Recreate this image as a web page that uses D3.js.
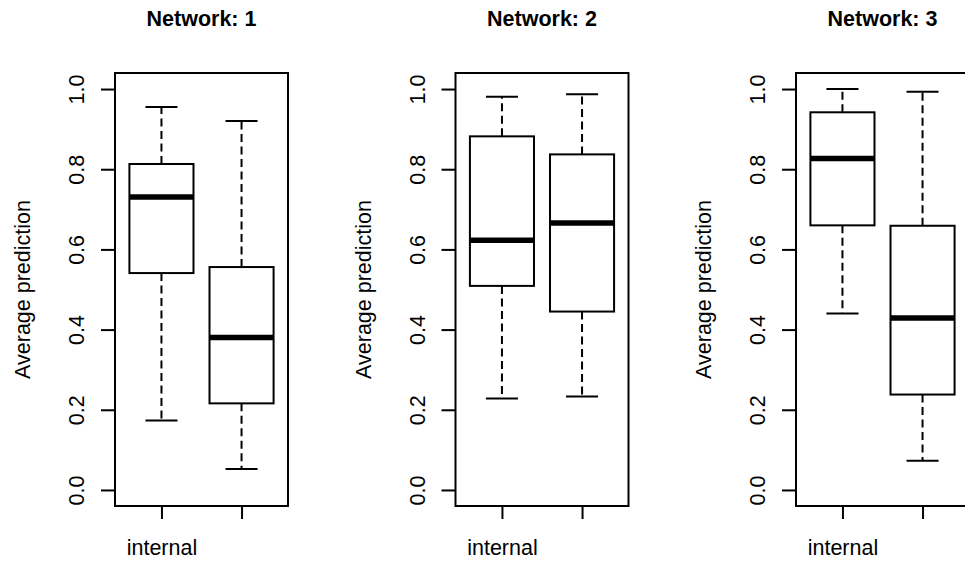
<!DOCTYPE html>
<html>
<head>
<meta charset="utf-8">
<script src="https://cdn.jsdelivr.net/npm/d3@7"></script>
<style>
  html, body { margin: 0; padding: 0; background: #fff; }
  svg { display: block; }
  text { font-family: "Liberation Sans", Arial, sans-serif; fill: #000; }
</style>
</head>
<body>
<script>
// Data, one entry per network panel, two boxes each
const networks = ["1", "2", "3"];
const xLabels = ["internal", ""];
const yTicks = [0, 0.2, 0.4, 0.6, 0.8, 1.0];

const lowerWhisker = [[0.173, 0.052], [0.228, 0.233], [0.440, 0.073]];
const q1 =           [[0.541, 0.216], [0.509, 0.445], [0.660, 0.238]];
const medians =      [[0.731, 0.380], [0.623, 0.666], [0.827, 0.429]];
const q3 =           [[0.813, 0.556], [0.882, 0.837], [0.942, 0.659]];
const upperWhisker = [[0.955, 0.920], [0.981, 0.987], [1.000, 0.993]];

// Layout
const width = 965;
const height = 561;
const panelStep = 340.5;
const firstLeft = 115;
const plotW = 173;
const plotTop = 73;
const plotBottom = 506;
const fontSize = 21.5;

const svg = d3.select("body")
  .append("svg")
  .attr("width", width)
  .attr("height", height);

// R style: ylim c(0,1) padded by 4%, boxes at 1 and 2 with xlim 0.5..2.5 padded by 4%
const y = d3.scaleLinear()
  .domain([-0.04, 1.04])
  .range([plotBottom, plotTop]);

networks.forEach((net, p) => {
  const left = firstLeft + p * panelStep;
  const x = d3.scaleLinear()
    .domain([0.42, 2.58])
    .range([left, left + plotW]);
  const unit = x(1) - x(0);
  const halfBox = 0.4 * unit;
  const halfStaple = 0.2 * unit;

  const g = svg.append("g");

  // Title
  g.append("text")
    .attr("x", left + plotW / 2)
    .attr("y", 26)
    .attr("text-anchor", "middle")
    .style("font-size", fontSize + "px")
    .style("font-weight", "bold")
    .text("Network: " + net);

  // Boxes
  const stats = [0, 1].map(i => ({
    pos: i + 1,
    lo: lowerWhisker[p][i],
    q1: q1[p][i],
    med: medians[p][i],
    q3: q3[p][i],
    hi: upperWhisker[p][i]
  }));

  const box = g.selectAll("g.box")
    .data(stats)
    .enter()
    .append("g")
    .attr("class", "box");

  // dashed whiskers, drawn from the box outwards
  box.append("line")
    .attr("x1", d => x(d.pos)).attr("x2", d => x(d.pos))
    .attr("y1", d => y(d.q1)).attr("y2", d => y(d.lo))
    .attr("stroke", "#000").attr("stroke-width", 2)
    .attr("stroke-dasharray", "8,4.5");
  box.append("line")
    .attr("x1", d => x(d.pos)).attr("x2", d => x(d.pos))
    .attr("y1", d => y(d.q3)).attr("y2", d => y(d.hi))
    .attr("stroke", "#000").attr("stroke-width", 2)
    .attr("stroke-dasharray", "8,4.5");

  // staples
  box.append("line")
    .attr("x1", d => x(d.pos) - halfStaple).attr("x2", d => x(d.pos) + halfStaple)
    .attr("y1", d => y(d.lo)).attr("y2", d => y(d.lo))
    .attr("stroke", "#000").attr("stroke-width", 2);
  box.append("line")
    .attr("x1", d => x(d.pos) - halfStaple).attr("x2", d => x(d.pos) + halfStaple)
    .attr("y1", d => y(d.hi)).attr("y2", d => y(d.hi))
    .attr("stroke", "#000").attr("stroke-width", 2);

  box.append("rect")
    .attr("x", d => x(d.pos) - halfBox)
    .attr("width", 2 * halfBox)
    .attr("y", d => y(d.q3))
    .attr("height", d => y(d.q1) - y(d.q3))
    .attr("fill", "#fff")
    .attr("stroke", "#000")
    .attr("stroke-width", 2);

  box.append("line")
    .attr("x1", d => x(d.pos) - halfBox).attr("x2", d => x(d.pos) + halfBox)
    .attr("y1", d => y(d.med)).attr("y2", d => y(d.med))
    .attr("stroke", "#000").attr("stroke-width", 5.5);

  // Axes
  const yAxis = d3.axisLeft(y)
    .tickValues(yTicks)
    .tickFormat(d3.format(".1f"))
    .tickSize(14)
    .tickSizeOuter(0);
  const yg = g.append("g")
    .attr("transform", `translate(${left},0)`)
    .call(yAxis);
  yg.select(".domain").remove();
  yg.selectAll(".tick line").attr("stroke-width", 2);
  yg.selectAll(".tick text")
    .attr("x", null).attr("dy", null)
    .attr("transform", "translate(-31,0) rotate(-90)")
    .attr("text-anchor", "middle")
    .style("font-size", fontSize + "px")
    .style("font-family", "'Liberation Sans', Arial, sans-serif");

  const xAxis = d3.axisBottom(x)
    .tickValues([1, 2])
    .tickFormat((d, i) => xLabels[i])
    .tickSize(13)
    .tickSizeOuter(0);
  const xg = g.append("g")
    .attr("transform", `translate(0,${plotBottom})`)
    .call(xAxis);
  xg.select(".domain").remove();
  xg.selectAll(".tick line").attr("stroke-width", 2);
  xg.selectAll(".tick text")
    .attr("y", 49).attr("dy", null)
    .style("font-size", fontSize + "px")
    .style("font-family", "'Liberation Sans', Arial, sans-serif");

  // Frame
  g.append("rect")
    .attr("x", left).attr("y", plotTop)
    .attr("width", plotW).attr("height", plotBottom - plotTop)
    .attr("fill", "none")
    .attr("stroke", "#000")
    .attr("stroke-width", 2);

  // Y label
  g.append("text")
    .attr("transform", `translate(${left - 85},${(plotTop + plotBottom) / 2}) rotate(-90)`)
    .attr("text-anchor", "middle")
    .style("font-size", fontSize + "px")
    .text("Average prediction");
});
</script>
</body>
</html>
